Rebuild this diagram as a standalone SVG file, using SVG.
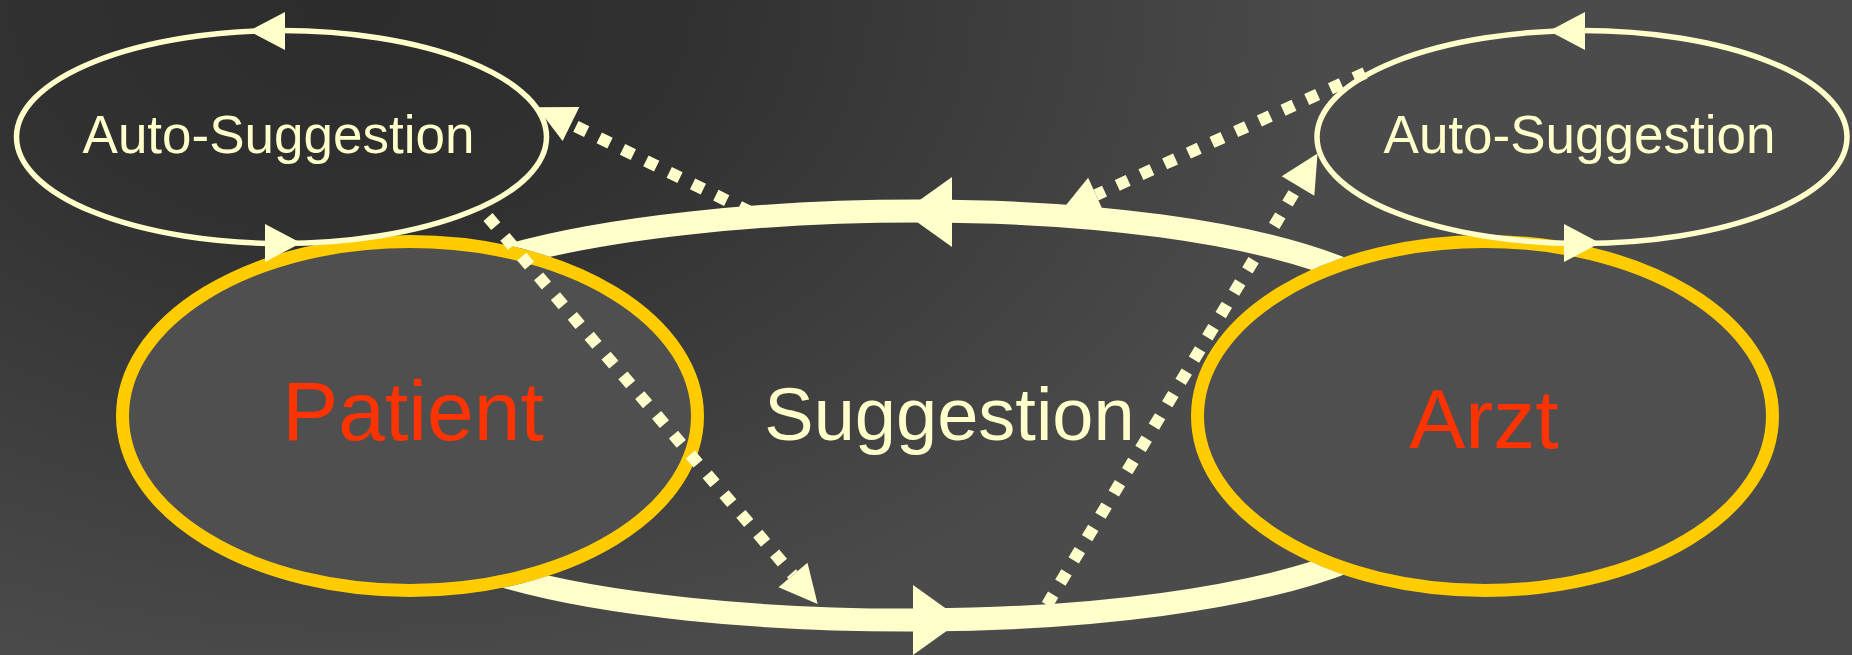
<svg xmlns="http://www.w3.org/2000/svg" xmlns:xlink="http://www.w3.org/1999/xlink" width="1852" height="655" viewBox="0 0 1852 655">
<style>
.bg{fill:url(#bgGrad)}
.main{fill:#4F4F4F;stroke:#FFCC00;stroke-width:13}
.auto{fill:none;stroke:#FFFFCC;stroke-width:5.5}
.cream{fill:#FFFFCC}
.lblA{font-family:"Liberation Sans",Arial,sans-serif;font-size:53px;fill:#FFFFCC;text-anchor:middle}
.lblM{font-family:"Liberation Sans",Arial,sans-serif;font-size:84px;fill:#FF3300;text-anchor:middle}
.lblS{font-family:"Liberation Sans",Arial,sans-serif;font-size:74px;fill:#FFFFCC;text-anchor:middle}
.thick{fill:none;stroke:#FFFFCC;stroke-width:23}
.dot{fill:none;stroke:#FFFFCC;stroke-width:12;stroke-dasharray:12 14;marker-end:url(#dotHead)}
</style>
<defs>
<radialGradient id="bgGrad" gradientUnits="userSpaceOnUse" cx="350" cy="0" r="1000" gradientTransform="translate(350 0) scale(1 0.7) translate(-350 0)">
<stop offset="0" stop-color="#2C2C2C"/>
<stop offset="0.35" stop-color="#313131"/>
<stop offset="1" stop-color="#4B4B4B"/>
</radialGradient>
<marker id="dotHead" markerUnits="userSpaceOnUse" orient="auto" refX="0" refY="0" markerWidth="40" markerHeight="40" viewBox="0 -20 40 40" overflow="visible">
<path d="M0,-19 L38,0 L0,19 Z" fill="#FFFFCC"/>
</marker>
<path id="bigHead" d="M0,-35 L49,0 L0,35 Z"/>
<path id="smallHead" d="M0,-19 L36,0 L0,19 Z"/>
<mask id="nodeMask" maskUnits="userSpaceOnUse" x="0" y="0" width="1852" height="655">
<rect x="0" y="0" width="1852" height="655" fill="white"/>
<ellipse cx="410" cy="416" rx="294" ry="181" fill="black"/>
<ellipse cx="1485" cy="416" rx="294" ry="181" fill="black"/>
</mask>
</defs>
<rect class="bg" x="0" y="0" width="1852" height="655"/>
<g id="node-patient">
<ellipse class="main" cx="410" cy="416" rx="287.5" ry="174.5"/>
<text class="lblM" x="413" y="440">Patient</text>
</g>
<g id="node-arzt">
<ellipse class="main" cx="1485" cy="416" rx="287.5" ry="174.5"/>
<text class="lblM" x="1484" y="448">Arzt</text>
</g>
<g id="node-auto-left">
<ellipse class="auto" cx="281.5" cy="137" rx="265" ry="106.5"/>
<use xlink:href="#smallHead" class="cream" transform="translate(285 31) scale(-1 1)"/>
<use xlink:href="#smallHead" class="cream" transform="translate(265 243)"/>
<text class="lblA" x="278.5" y="153">Auto-Suggestion</text>
</g>
<g id="node-auto-right">
<ellipse class="auto" cx="1582" cy="137" rx="265" ry="106.5"/>
<use xlink:href="#smallHead" class="cream" transform="translate(1585 31) scale(-1 1)"/>
<use xlink:href="#smallHead" class="cream" transform="translate(1564 243)"/>
<text class="lblA" x="1579.5" y="153">Auto-Suggestion</text>
</g>
<g id="connectors">
<path class="dot" d="M1047 605 L1298 186"/>
<path class="dot" d="M1365 73 L1096 195"/>
<path class="dot" d="M750 212 L571 124"/>
<g mask="url(#nodeMask)">
<path class="thick" d="M500 258 C700 198 1150 188 1350 272"/>
<path class="thick" d="M500 575 C700 635 1150 640 1350 560"/>
</g>
<use xlink:href="#bigHead" class="cream" transform="translate(952 212) scale(-1 1)"/>
<use xlink:href="#bigHead" class="cream" transform="translate(913 620)"/>
<path class="dot" d="M488 217 L793 575"/>
<text class="lblS" x="949.5" y="440">Suggestion</text>
</g>
</svg>
